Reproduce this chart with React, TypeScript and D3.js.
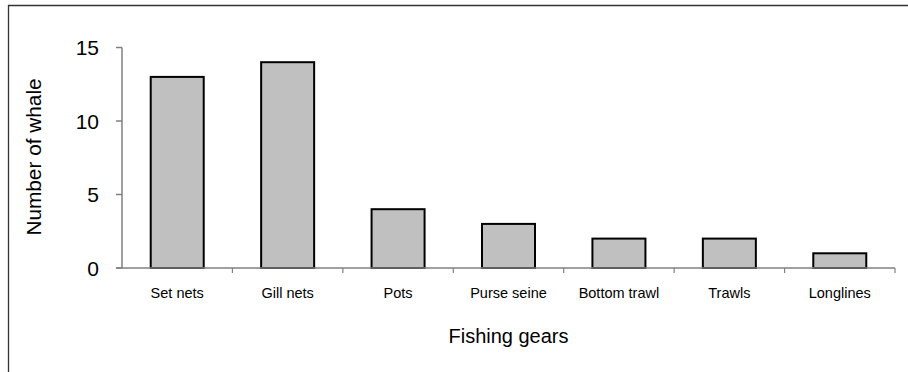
import React from "react";
import * as d3 from "d3";

const categories = ["Set nets", "Gill nets", "Pots", "Purse seine", "Bottom trawl", "Trawls", "Longlines"];
const values = [13, 14, 4, 3, 2, 2, 1];
const yTicks = [0, 5, 10, 15];

export default function App() {
  const W = 908, H = 372;
  const x0 = 122, x1 = 895, yTop = 47.5, yBot = 268;
  const x = d3.scaleBand<string>().domain(categories).range([x0, x1]).paddingInner(0.52).paddingOuter(0.26);
  const y = d3.scaleLinear().domain([0, 15]).range([yBot, yTop]);
  const band = (x1 - x0) / categories.length;
  const font = "'Liberation Sans', Arial, sans-serif";
  return (
    <svg width={W} height={H} style={{ position: "absolute", left: 0, top: 0 }} fontFamily={font}>
      <rect x={0} y={0} width={W} height={H} fill="#fff" />
      <path d={`M8.5,${H + 5}V5.5H${W + 5}`} fill="none" stroke="#333" strokeWidth={1.3} />
      {categories.map((c, i) => (
        <rect key={c} x={x(c)!} y={y(values[i])} width={x.bandwidth()} height={yBot - y(values[i])}
          fill="#c0c0c0" stroke="#000" strokeWidth={2} />
      ))}
      <line x1={x0} x2={x0} y1={yTop} y2={yBot} stroke="#808080" strokeWidth={1.5} />
      <line x1={116} x2={x1} y1={yBot} y2={yBot} stroke="#808080" strokeWidth={1.5} />
      {yTicks.map(t => (
        <g key={t}>
          <line x1={116} x2={x0} y1={y(t)} y2={y(t)} stroke="#808080" strokeWidth={1.5} />
          <text x={99} y={y(t)} dy="0.36em" textAnchor="end" fontSize={21} fill="#000">{t}</text>
        </g>
      ))}
      {categories.map((c, i) => (
        <line key={c + "t"} x1={x0 + band * (i + 1)} x2={x0 + band * (i + 1)} y1={yBot} y2={yBot + 5} stroke="#808080" strokeWidth={1.2} />
      ))}
      {categories.map(c => (
        <text key={c + "l"} x={x(c)! + x.bandwidth() / 2} y={298} textAnchor="middle" fontSize={14.5} fill="#000">{c}</text>
      ))}
      <text x={(x0 + x1) / 2} y={343} textAnchor="middle" fontSize={20} fill="#000">Fishing gears</text>
      <text transform={`translate(40.5,157) rotate(-90)`} textAnchor="middle" fontSize={20.8} fill="#000">Number of whale</text>
    </svg>
  );
}
